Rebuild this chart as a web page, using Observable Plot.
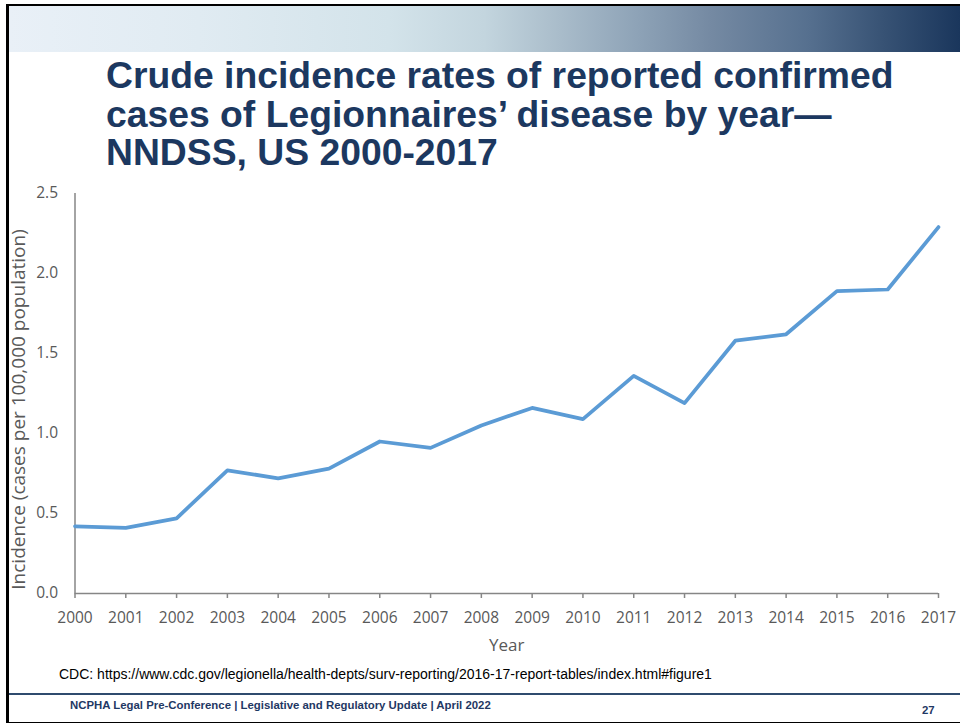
<!DOCTYPE html>
<html>
<head>
<meta charset="utf-8">
<script src="https://cdn.jsdelivr.net/npm/d3@7"></script>
<script src="https://cdn.jsdelivr.net/npm/@observablehq/plot@0.6"></script>
<style>
  html, body { margin: 0; padding: 0; background: #fff; }
  #slide { position: relative; width: 960px; height: 723px; overflow: hidden; background: #fff; }
  #frame { position: absolute; left: 6px; top: 4px; width: 970px; height: 716px;
           border-left: 3px solid #000; border-top: 2px solid #000; border-bottom: 2px solid #000; }
  #band { position: absolute; left: 9px; top: 6px; width: 951px; height: 46px;
          background: linear-gradient(to right, #e9f0f7 0%, #e0ebf2 20%, #d3e3ea 40%, #c3d5de 50%, #a9bcca 58%, #8ea3b7 66%, #7489a2 74%, #56708f 84%, #375274 92%, #1a365c 100%); }
  #title { position: absolute; left: 106px; top: 56px; margin: 0;
           font-family: "Liberation Sans", Arial, sans-serif; font-weight: bold; font-size: 37.3px;
           line-height: 38.5px; color: #1c3860; white-space: nowrap; }
  #chart { position: absolute; left: 0; top: 180px; }
  #caption { position: absolute; left: 59px; top: 666.5px; font-family: "Liberation Sans", Arial, sans-serif;
             font-size: 14px; line-height: 14px; color: #000; white-space: nowrap; }
  #rule { position: absolute; left: 9px; top: 693px; width: 951px; height: 2px; background: #2f4b6e; }
  #footer { position: absolute; left: 70px; top: 699.8px; font-family: "Liberation Sans", Arial, sans-serif;
            font-weight: bold; font-size: 11.4px; line-height: 11.4px; color: #1f3864; white-space: nowrap; }
  #page { position: absolute; left: 922px; top: 704.5px; font-family: "Liberation Sans", Arial, sans-serif;
          font-weight: bold; font-size: 11.4px; line-height: 11.4px; color: #1f3864; white-space: nowrap; }
</style>
</head>
<body>
<div id="slide">
  <div id="frame"></div>
  <div id="band"></div>
  <h1 id="title">Crude incidence rates of reported confirmed<br>cases of Legionnaires’ disease by year—<br>NNDSS, US 2000-2017</h1>
  <div id="chart"></div>
  <div id="caption">CDC: https://www.cdc.gov/legionella/health-depts/surv-reporting/2016-17-report-tables/index.html#figure1</div>
  <div id="rule"></div>
  <div id="footer">NCPHA Legal Pre-Conference | Legislative and Regulatory Update | April 2022</div>
  <div id="page">27</div>
</div>
<script>
const years = [2000, 2001, 2002, 2003, 2004, 2005, 2006, 2007, 2008, 2009, 2010, 2011, 2012, 2013, 2014, 2015, 2016, 2017];
const rates = [0.42, 0.41, 0.47, 0.77, 0.72, 0.78, 0.95, 0.91, 1.05, 1.16, 1.09, 1.36, 1.19, 1.58, 1.62, 1.89, 1.90, 2.29];
const yTicks = [0, 0.5, 1.0, 1.5, 2.0, 2.5];
const xLabel = "Year";
const yLabel = "Incidence (cases per 100,000 population)";

const data = years.map((year, i) => ({year, rate: rates[i]}));

const chart = Plot.plot({
  width: 960,
  height: 480,
  marginTop: 13,
  marginBottom: 67,
  marginLeft: 74.5,
  marginRight: 22,
  style: {fontFamily: "'Open Sans', sans-serif", fontSize: "15.5px", color: "#595959", background: "transparent", overflow: "visible"},
  x: {domain: [2000, 2017]},
  y: {domain: [0, 2.5]},
  marks: [
    Plot.axisY(yTicks, {tickSize: 0, tickPadding: 17, tickFormat: d => d.toFixed(1), label: null, fill: "#595959"}),
    Plot.axisX(years, {tickSize: 5, tickPadding: 13, tickFormat: d => String(d), label: null, stroke: "#868686", strokeWidth: 1.5, fill: "#595959"}),
    Plot.ruleY([0], {stroke: "#868686", strokeWidth: 1.5}),
    Plot.ruleX([2000], {stroke: "#868686", strokeWidth: 1.5}),
    Plot.line(data, {x: "year", y: "rate", stroke: "#5b9bd5", strokeWidth: 3.75, strokeLinejoin: "round", strokeLinecap: "round"}),
    Plot.text([yLabel], {frameAnchor: "left", text: d => d, rotate: -90, dx: -56, dy: 16, fontSize: 19, fill: "#595959", textAnchor: "middle", lineAnchor: "middle"}),
    Plot.text([xLabel], {frameAnchor: "bottom", text: d => d, dy: 45, fontSize: 17, fill: "#595959", textAnchor: "middle", lineAnchor: "top"})
  ]
});
document.getElementById("chart").appendChild(chart);
</script>
</body>
</html>
